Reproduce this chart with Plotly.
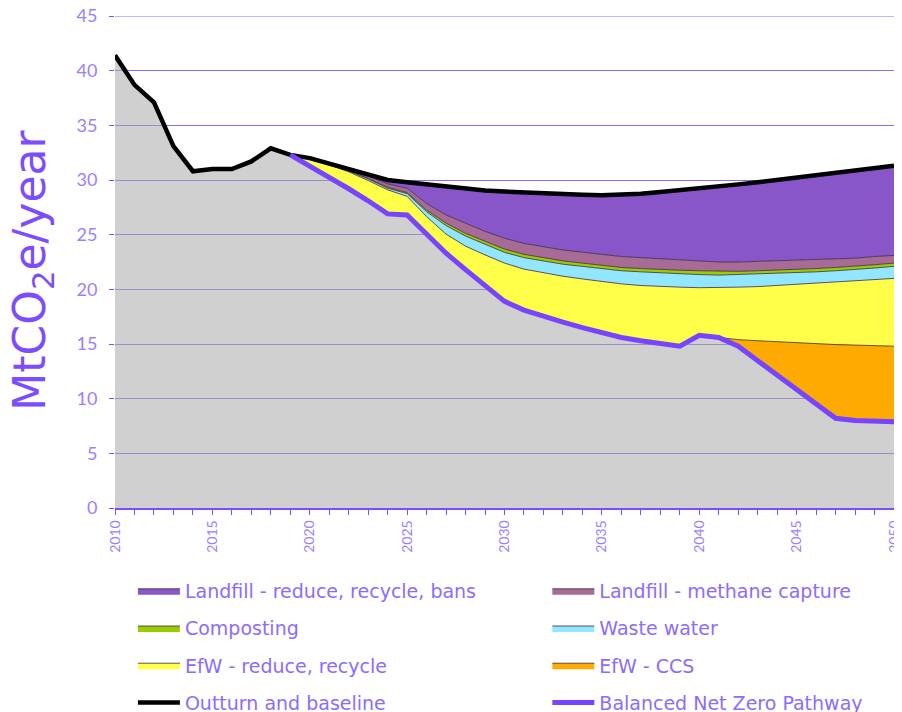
import plotly.graph_objects as go

years = list(range(2010, 2051))

# outturn to 2019, baseline projection after (MtCO2e/year)
outturn_baseline = [41.4, 38.7, 37.1, 33.1, 30.8, 31.0, 31.0, 31.7, 32.9, 32.3,
                    32.0, 31.5, 31.0, 30.5, 30.0, 29.8, 29.6, 29.4, 29.2, 29.05,
                    28.95, 28.85, 28.8, 28.7, 28.65, 28.6, 28.65, 28.75, 28.9, 29.05,
                    29.2, 29.4, 29.6, 29.8, 30.0, 30.2, 30.45, 30.65, 30.85, 31.05, 31.3]

# Balanced Net Zero Pathway, 2019-2050
nz_years = list(range(2019, 2051))
net_zero = [32.3, 31.3, 30.3, 29.2, 28.1, 26.9, 26.8, 25.0, 23.3, 21.8, 20.3,
            18.9, 18.1, 17.5, 17.0, 16.5, 16.0, 15.6, 15.3, 15.0, 14.8,
            15.8, 15.6, 14.8, 13.5, 12.2, 10.9, 9.6, 8.2, 8.0, 7.9, 7.9]

# abatement wedges, 2020-2050
efw_ccs = [0, 0, 0, 0, 0, 0, 0, 0, 0, 0, 0, 0, 0, 0, 0, 0, 0, 0, 0, 0, 0,
           0, 0.6, 1.8, 3.0, 4.2, 5.4, 6.75, 6.9, 6.95, 6.9]
efw_reduce = [0.7, 1.1, 1.55, 1.85, 2.2, 1.7, 1.65, 1.75, 2.15, 2.85, 3.5,
              3.75, 4.0, 4.2, 4.45, 4.7, 4.9, 5.05, 5.25, 5.4, 4.35,
              4.55, 4.8, 4.95, 5.15, 5.35, 5.55, 5.7, 5.85, 6.0, 6.2]
waste_water = [0, 0.05, 0.07, 0.15, 0.15, 0.25, 0.45, 0.78, 0.92, 0.95, 0.98,
               1.05, 1.1, 1.1, 1.15, 1.2, 1.2, 1.25, 1.25, 1.25, 1.2,
               1.15, 1.15, 1.15, 1.1, 1.1, 1.05, 1.05, 1.05, 1.1, 1.1]
composting = [0, 0, 0.03, 0.05, 0.1, 0.1, 0.15, 0.22, 0.25, 0.3, 0.3,
              0.3, 0.3, 0.3, 0.3, 0.3, 0.3, 0.3, 0.3, 0.3, 0.35,
              0.35, 0.3, 0.3, 0.3, 0.3, 0.3, 0.3, 0.3, 0.3, 0.3]
methane_capture = [0, 0.05, 0.1, 0.2, 0.3, 0.4, 0.6, 0.75, 0.9, 0.9, 1.0,
                   1.0, 1.0, 1.0, 1.0, 1.0, 1.0, 1.0, 1.0, 0.95, 0.9,
                   0.85, 0.85, 0.85, 0.85, 0.85, 0.8, 0.75, 0.75, 0.75, 0.7]
landfill_reduce = [0, 0, 0.05, 0.15, 0.3, 0.6, 1.75, 2.6, 3.2, 3.75, 4.3,
                   4.65, 4.9, 5.1, 5.25, 5.4, 5.65, 5.85, 6.1, 6.35, 6.6,
                   6.9, 7.1, 7.25, 7.4, 7.55, 7.75, 7.9, 8.0, 8.1, 8.2]

PURPLE = "#7B4DFF"
LIGHT = "#9B80FF"
GRID = "#8C6CF0"
TICKFONT = "Lato"
TEXTFONT = "DejaVu Sans"

# grey area: outturn up to 2018, then the pathway
remaining = outturn_baseline[:9] + net_zero
pad = [0] * 10

fig = go.Figure()
fig.add_trace(go.Scatter(x=years, y=remaining, stackgroup="s", mode="lines",
                         line=dict(width=0), fillcolor="rgba(170,170,170,0.55)",
                         showlegend=False, hoverinfo="skip"))

wedges = [
    ("EfW - CCS", efw_ccs, "#FFAA00", "legend2", 3),
    ("EfW - reduce, recycle", efw_reduce, "#FFFF4A", "legend", 3),
    ("Waste water", waste_water, "#93E6FF", "legend2", 2),
    ("Composting", composting, "#9ACD00", "legend", 2),
    ("Landfill - methane capture", methane_capture, "#A76B96", "legend2", 1),
    ("Landfill - reduce, recycle, bans", landfill_reduce, "#8956C9", "legend", 1),
]
for name, vals, col, leg, rank in wedges:
    fig.add_trace(go.Scatter(x=years, y=pad + vals, name=name, stackgroup="s",
                             mode="lines", line=dict(width=0.8, color="#3a2a40"),
                             fillcolor=col, legend=leg, legendgroup=name,
                             legendrank=rank))

fig.add_trace(go.Scatter(x=years, y=outturn_baseline, name="Outturn and baseline",
                         mode="lines", line=dict(color="black", width=4.5),
                         legend="legend", legendgroup="ob", legendrank=4))
fig.add_trace(go.Scatter(x=nz_years, y=net_zero, name="Balanced Net Zero Pathway",
                         mode="lines", line=dict(color="#7744FF", width=5),
                         legend="legend2", legendgroup="nz", legendrank=4))

leg_common = dict(orientation="v", traceorder="grouped", tracegroupgap=9.5,
                  font=dict(family=TEXTFONT, size=19, color="#8A6CFF"),
                  bgcolor="rgba(0,0,0,0)", itemwidth=42,
                  xanchor="left", yanchor="top", yref="paper", xref="paper")

# page body adds an 8px offset, so the figure is 8px smaller than the window
fig.update_layout(
    width=894, height=704,
    margin=dict(l=107, r=8, t=8, b=204, autoexpand=False),
    paper_bgcolor="white", plot_bgcolor="white",
    font=dict(family=TICKFONT, color=LIGHT),
    legend=dict(x=0.023, y=-0.13, **leg_common),
    legend2=dict(x=0.555, y=-0.13, **leg_common),
    hovermode=False,
    annotations=[dict(text="MtCO<sub>2</sub>e/year", textangle=-90,
                      xref="paper", yref="paper", x=-0.1055, y=0.484,
                      xanchor="center", yanchor="middle", showarrow=False,
                      font=dict(family=TEXTFONT, size=44, color=PURPLE))],
    # top gridline sits on the plot edge, where plotly drops it
    shapes=[dict(type="line", xref="paper", x0=0, x1=1, yref="y", y0=45, y1=45,
                 line=dict(color=GRID, width=1), layer="below")],
)
fig.update_xaxes(range=[2010, 2050], tickmode="linear", tick0=2010, dtick=5,
                 tickangle=-90, ticks="outside", ticklen=5, tickcolor=PURPLE,
                 tickfont=dict(family=TICKFONT, size=14, color=LIGHT),
                 ticklabeloverflow="allow",
                 showline=True, linecolor=PURPLE, linewidth=1.5,
                 showgrid=False, zeroline=False, automargin=False,
                 minor=dict(dtick=1, ticks="outside", ticklen=5, tickcolor=PURPLE))
fig.update_yaxes(range=[0, 45], dtick=5, ticks="outside", ticklen=5,
                 tickcolor=PURPLE, tickfont=dict(family=TICKFONT, size=18, color=LIGHT),
                 ticklabelstandoff=8, ticklabeloverflow="allow",
                 showgrid=True, gridcolor=GRID, gridwidth=1, zeroline=False,
                 showline=False, automargin=False)

fig.write_html("out.html")
